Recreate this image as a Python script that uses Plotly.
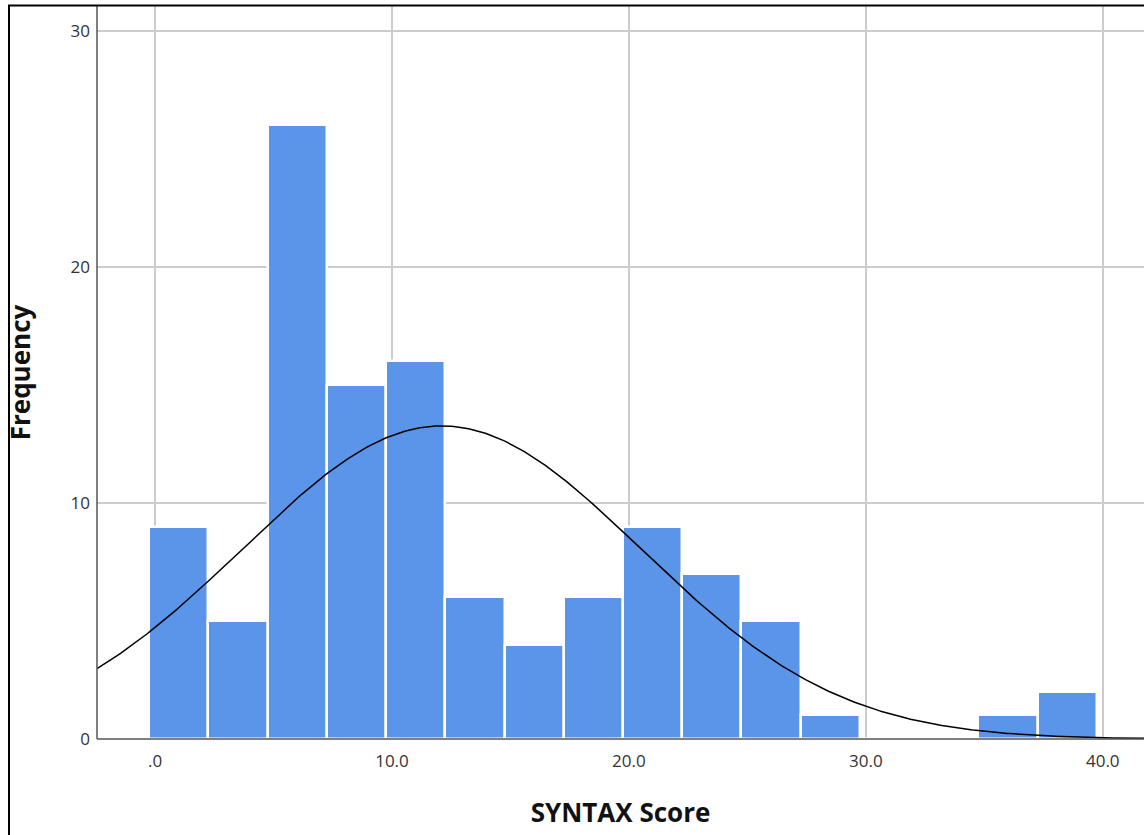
import numpy as np
import plotly.graph_objects as go

# Histogram bins (SYNTAX Score), bin width 2.5
bin_centers = [1.0, 3.5, 6.0, 8.5, 11.0, 13.5, 16.0, 18.5, 21.0, 23.5, 26.0, 28.5, 31.0, 33.5, 36.0, 38.5]
counts = [9, 5, 26, 15, 16, 6, 4, 6, 9, 7, 5, 1, 0, 0, 1, 2]
bin_width = 2.5

# Fitted normal curve parameters
mean_val = 12.1
sd_val = 8.42
n_total = sum(counts)

x_ticks = [0, 10, 20, 30, 40]
x_tick_labels = [".0", "10.0", "20.0", "30.0", "40.0"]
y_ticks = [0, 10, 20, 30]
y_tick_labels = ["0", "10", "20", "30"]

x_range = [-2.45, 41.74]
y_range = [0, 31.06]

xc = np.linspace(x_range[0], x_range[1], 400)
yc = n_total * bin_width / (sd_val * np.sqrt(2 * np.pi)) * np.exp(-((xc - mean_val) ** 2) / (2 * sd_val ** 2))

fig = go.Figure()
fig.add_trace(go.Bar(
    x=bin_centers, y=counts, width=bin_width,
    marker=dict(color="#5a95ea", line=dict(color="white", width=2.5)),
    showlegend=False, hoverinfo="x+y",
))
fig.add_trace(go.Scatter(
    x=xc, y=yc, mode="lines", line=dict(color="black", width=1.5),
    showlegend=False, hoverinfo="skip",
))

W, H = 1144, 835
ml, mr, mt, mb = 97, 0, 6, 96
pw, ph = W - ml - mr, H - mt - mb

fig.update_layout(
    width=W, height=H,
    margin=dict(l=ml, r=mr, t=mt, b=mb, pad=0),
    paper_bgcolor="white", plot_bgcolor="white",
    bargap=0,
    font=dict(family="Open Sans, DejaVu Sans, sans-serif", color="#333333"),
    xaxis=dict(
        range=x_range, tickvals=x_ticks, ticktext=x_tick_labels,
        showgrid=True, gridcolor="#cccccc", gridwidth=2,
        zeroline=False, showline=False, ticks="", ticklabelstandoff=10,
        tickfont=dict(size=17, color="#333333"),
        title=dict(text="<b>SYNTAX Score</b>", font=dict(size=26, color="#111111"), standoff=32),
    ),
    yaxis=dict(
        range=y_range, tickvals=y_ticks, ticktext=y_tick_labels,
        showgrid=True, gridcolor="#cccccc", gridwidth=2,
        zeroline=False, showline=False, ticks="", ticklabelstandoff=6,
        tickfont=dict(size=17, color="#333333"),
        title=dict(text="<b>Frequency</b>", font=dict(size=26, color="#111111"), standoff=32),
    ),
    shapes=[
        # axis lines
        dict(type="line", xref="paper", yref="paper", x0=0, x1=1, y0=0, y1=0,
             line=dict(color="#555555", width=1.5), layer="above"),
        dict(type="line", xref="paper", yref="paper", x0=0, x1=0, y0=0, y1=1,
             line=dict(color="#555555", width=1.5), layer="above"),
        # outer frame (left and top)
        dict(type="line", xref="paper", yref="paper",
             x0=(9 - ml) / pw, x1=(9 - ml) / pw, y0=(H - mb - 836) / ph, y1=(H - mb - 5.5) / ph,
             line=dict(color="black", width=2)),
        dict(type="line", xref="paper", yref="paper",
             x0=(8 - ml) / pw, x1=1.01, y0=(H - mb - 5.5) / ph, y1=(H - mb - 5.5) / ph,
             line=dict(color="black", width=2)),
    ],
)

fig.write_html(
    "out.html",
    config={"displayModeBar": False},
    post_script="document.body.style.margin='0';document.body.style.overflow='hidden';",
)
